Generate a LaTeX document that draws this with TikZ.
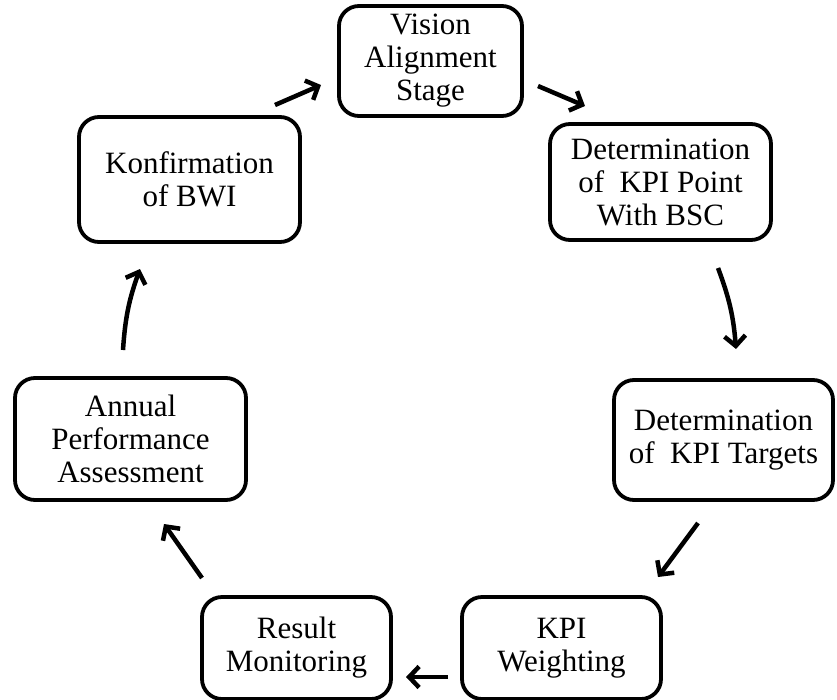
\documentclass[tikz,border=0pt]{standalone}
\usepackage{fontspec}
\setmainfont{Liberation Serif}
\usetikzlibrary{arrows.meta}
\begin{document}
\begin{tikzpicture}[x=1pt,y=-1pt,
  box/.style={draw, line width=3.8pt, rounded corners=20pt, align=center, inner sep=0pt,
    font=\fontsize{31}{33}\selectfont},
  arr/.style={line width=4.5pt, -{Straight Barb[length=10pt,width=21pt]}}]
\useasboundingbox (0,0) rectangle (837,699);
\node[box, minimum width=183pt, minimum height=110pt] (vis) at (430.5,61) {Vision\\Alignment\\Stage};
\node[box, minimum width=221pt, minimum height=116pt] (det) at (660.5,182) {Determination\\of~\ KPI Point\\With BSC};
\node[box, minimum width=219pt, minimum height=120pt] (tar) at (723.5,440) {Determination\\of~\ KPI Targets};
\node[box, minimum width=199pt, minimum height=102pt] (wei) at (561.5,648) {KPI\\Weighting};
\node[box, minimum width=189pt, minimum height=102pt] (res) at (296.5,648) {Result\\Monitoring};
\node[box, minimum width=231pt, minimum height=122pt] (ann) at (130.5,439) {Annual\\Performance\\Assessment};
\node[box, minimum width=221pt, minimum height=125pt] (kon) at (189.5,179.5) {Konfirmation\\of BWI};
\coordinate (a1s) at (275,105); \coordinate (a1e) at (321,85);
\coordinate (a2s) at (538,86); \coordinate (a2e) at (585,106);
\coordinate (a3s) at (718,268); \coordinate (a3e) at (736,349);
\coordinate (a4s) at (698,523); \coordinate (a4e) at (658,577);
\coordinate (a5s) at (448,677); \coordinate (a5e) at (406,677);
\coordinate (a6s) at (202,578); \coordinate (a6e) at (164,524);
\coordinate (a7s) at (123,350); \coordinate (a7e) at (140,269);
\draw[arr] (a1s) -- (a1e);
\draw[arr] (a2s) -- (a2e);
\draw[arr] (a3s) to[bend left=8] (a3e);
\draw[arr] (a4s) -- (a4e);
\draw[arr] (a5s) -- (a5e);
\draw[arr] (a6s) -- (a6e);
\draw[arr] (a7s) to[bend left=8] (a7e);
\end{tikzpicture}
\end{document}
